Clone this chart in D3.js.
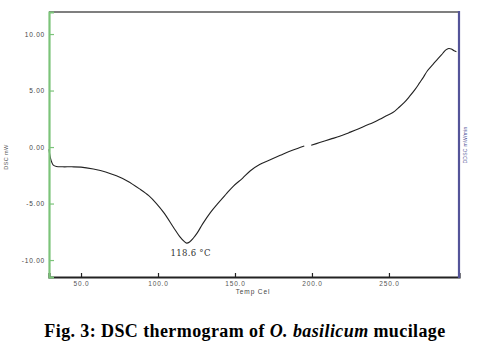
<!DOCTYPE html>
<html><head><meta charset="utf-8">
<script src="https://cdn.jsdelivr.net/npm/d3@7"></script>
<style>body{margin:0;background:#fff}</style>
</head><body>
<svg id="c" width="484" height="357"></svg>
<script>
// Data
const xTicks = [50, 100, 150, 200, 250];
const xTickLabels = ["50.0", "100.0", "150.0", "200.0", "250.0"];
const yTicks = [10, 5, 0, -5, -10];
const yTickLabels = ["10.00", "5.00", "0.00", "-5.00", "-10.00"];
// DSC curve segment 1 (temperature, mW)
const seg1T = [29.2, 29.6, 30.2, 31, 32, 34, 38, 44, 50, 58, 66, 73, 80, 88, 94, 99, 104, 110, 114, 117, 118.6, 120.5, 123, 125.5, 129, 134, 138.5, 144, 149, 155, 160, 166, 173.6, 180, 186, 191, 195];
const seg1V = [-0.2, -0.6, -1.0, -1.35, -1.6, -1.72, -1.75, -1.75, -1.78, -1.95, -2.2, -2.55, -3.0, -3.7, -4.3, -5.0, -5.85, -7.1, -7.9, -8.35, -8.5, -8.4, -8.05, -7.6, -6.8, -5.8, -5.05, -4.2, -3.45, -2.75, -2.1, -1.55, -1.09, -0.7, -0.35, -0.1, 0.09];
// DSC curve segment 2
const seg2T = [199.5, 205, 212, 218, 224, 230, 235, 239.5, 244, 248, 252.5, 256, 260, 263.5, 267, 270, 272, 275, 278.5, 282, 285, 287, 288.8, 290.5, 292, 293.8];
const seg2V = [0.15, 0.4, 0.7, 0.95, 1.27, 1.6, 1.9, 2.15, 2.45, 2.75, 3.05, 3.45, 3.95, 4.5, 5.1, 5.7, 6.1, 6.75, 7.3, 7.85, 8.3, 8.6, 8.72, 8.68, 8.55, 8.43];
const peakT = 118.6, peakV = -8.5, peakLabel = "118.6 °C";
const xTitle = "Temp Cel", yTitle = "DSC mW", y2Title = "DDSC mW/min";
const caption = "Fig. 3: DSC thermogram of ";

const svg = d3.select("#c");
const L = 49, R = 459, T = 12, B = 277;
const x = d3.scaleLinear().domain([29.2, 295.5]).range([L, R]);
const y = d3.scaleLinear().domain([-11.5, 11.95]).range([B, T]);

// top border
svg.append("line").attr("x1", L).attr("x2", R).attr("y1", T).attr("y2", T)
  .attr("stroke", "#555").attr("stroke-width", 1.5);

// curve
const line = d3.line().x(d => x(d[0])).y(d => y(d[1])).curve(d3.curveCatmullRom);
[[seg1T, seg1V], [seg2T, seg2V]].forEach(([t, v]) => {
  svg.append("path").datum(t.map((d, i) => [d, v[i]]))
    .attr("d", line).attr("fill", "none").attr("stroke", "#222").attr("stroke-width", 1.1);
});

// bottom axis
const xAxis = svg.append("g").attr("transform", `translate(0,${B})`)
  .call(d3.axisTop(x).tickValues(xTicks).tickSize(4).tickFormat((d, i) => xTickLabels[i]));
xAxis.select(".domain").attr("stroke", "#222").attr("stroke-width", 2.2);
xAxis.selectAll(".tick line").attr("stroke", "#222").attr("stroke-width", 1.2);
xAxis.selectAll(".tick text").attr("y", 9).attr("dy", 0)
  .attr("font-family", "Liberation Sans, Arial, sans-serif").attr("font-size", 6.5)
  .attr("letter-spacing", 0.8).attr("fill", "#555");

// left axis
const yAxis = svg.append("g").attr("transform", `translate(${L},0)`)
  .call(d3.axisRight(y).tickValues(yTicks).tickSize(5).tickFormat((d, i) => yTickLabels[i]));
yAxis.select(".domain").attr("stroke", "#7cc47a").attr("stroke-width", 2.2);
yAxis.selectAll(".tick line").attr("stroke", "#7cc47a").attr("stroke-width", 1.2);
yAxis.selectAll(".tick text").attr("x", -4).attr("text-anchor", "end").attr("dy", "0.35em")
  .attr("font-family", "Liberation Sans, Arial, sans-serif").attr("font-size", 6.5)
  .attr("letter-spacing", 0.8).attr("fill", "#444");

// right axis
svg.append("line").attr("x1", R).attr("x2", R).attr("y1", T - 1).attr("y2", B + 1)
  .attr("stroke", "#545499").attr("stroke-width", 2.2);

// titles
svg.append("text").attr("x", 253).attr("y", 294).attr("text-anchor", "middle")
  .attr("font-family", "Liberation Sans, Arial, sans-serif").attr("font-size", 6.5)
  .attr("letter-spacing", 0.9).attr("fill", "#444").text(xTitle);
svg.append("text").attr("transform", "translate(8,157) rotate(-90)").attr("text-anchor", "middle")
  .attr("font-family", "Liberation Sans, Arial, sans-serif").attr("font-size", 5.5)
  .attr("letter-spacing", 0.4).attr("fill", "#555").text(yTitle);
svg.append("text").attr("transform", "translate(467,145) rotate(-90)").attr("text-anchor", "middle")
  .attr("font-family", "Liberation Sans, Arial, sans-serif").attr("font-size", 5)
  .attr("letter-spacing", 0.3).attr("fill", "#545499").text(y2Title);

// peak label
svg.append("text").attr("x", x(peakT) + 4).attr("y", y(peakV) + 13).attr("text-anchor", "middle")
  .attr("font-family", "DejaVu Serif, serif").attr("font-size", 8.5)
  .attr("letter-spacing", 0.3).attr("fill", "#333").text(peakLabel);

// caption
const cap = svg.append("text").attr("x", 245).attr("y", 337).attr("text-anchor", "middle")
  .attr("font-family", "Liberation Serif, Times New Roman, serif").attr("font-size", 18)
  .attr("letter-spacing", 0.4)
  .attr("font-weight", "bold").attr("fill", "#000");
cap.append("tspan").text(caption);
cap.append("tspan").attr("font-style", "italic").text("O. basilicum");
cap.append("tspan").text(" mucilage");
</script>
</body></html>
